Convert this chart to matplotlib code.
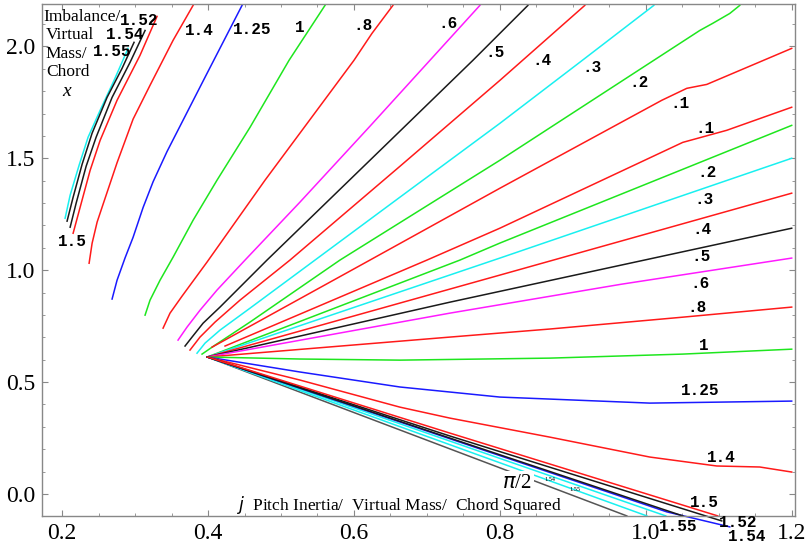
import numpy as np
import matplotlib
matplotlib.use("Agg")
import matplotlib.pyplot as plt
from matplotlib.ticker import MultipleLocator

RED = "#ff1a1a"
GREEN = "#1ee61e"
CYAN = "#19f0f0"
MAGENTA = "#ff1aff"
BLUE = "#1a1aff"
BLACK = "#1a1a1a"
GRAY = "#555555"

# contour traces: pitch inertia (j) vs imbalance (x)
# upper fan, lines starting along the left boundary
c155_j = [0.2041, 0.2110, 0.2233, 0.2356, 0.2521, 0.2712, 0.2904]
c155_x = [1.232, 1.335, 1.469, 1.594, 1.714, 1.848, 1.991]
b155_j = [0.2068, 0.2151, 0.2274, 0.2411, 0.2616, 0.2822, 0.2986]
b155_x = [1.219, 1.326, 1.473, 1.612, 1.772, 1.902, 2.018]
b154_j = [0.2110, 0.2192, 0.2329, 0.2466, 0.2685, 0.2932, 0.3137]
b154_x = [1.192, 1.299, 1.464, 1.594, 1.772, 1.929, 2.071]
r152_j = [0.2151, 0.2247, 0.2384, 0.2521, 0.2753, 0.3068, 0.3301]
r152_x = [1.165, 1.281, 1.446, 1.580, 1.759, 1.960, 2.134]
r14_j = [0.2370, 0.2411, 0.2480, 0.2562, 0.2753, 0.2973, 0.3205, 0.3521, 0.3795]
r14_x = [1.031, 1.120, 1.215, 1.295, 1.480, 1.675, 1.826, 2.027, 2.183]
b125_j = [0.2685, 0.2753, 0.2863, 0.2973, 0.3110, 0.3247, 0.3438, 0.3959, 0.4466]
b125_x = [0.871, 0.955, 1.055, 1.147, 1.280, 1.395, 1.530, 1.862, 2.183]
g1_j = [0.3137, 0.3205, 0.3342, 0.3521, 0.3795, 0.4123, 0.4575, 0.5110, 0.5603]
g1_x = [0.799, 0.866, 0.955, 1.058, 1.223, 1.402, 1.638, 1.9375, 2.183]
r08_j = [0.3384, 0.3479, 0.3644, 0.3986, 0.4781, 0.6000, 0.6247, 0.6534]
r08_x = [0.741, 0.808, 0.884, 1.036, 1.402, 1.9375, 2.058, 2.183]
m06_j = [0.3589, 0.3712, 0.3890, 0.4123, 0.4507, 0.5260, 0.6219, 0.7041, 0.7726]
m06_x = [0.6875, 0.7455, 0.821, 0.911, 1.045, 1.304, 1.643, 1.9375, 2.183]
k05_j = [0.3685, 0.3781, 0.3932, 0.4164, 0.4808, 0.6219, 0.7630, 0.8384]
k05_x = [0.661, 0.701, 0.763, 0.835, 1.045, 1.491, 1.9375, 2.183]
r04_j = [0.3753, 0.3890, 0.4096, 0.4438, 0.5123, 0.6630, 0.8000, 0.9164]
r04_x = [0.643, 0.701, 0.768, 0.866, 1.045, 1.464, 1.848, 2.183]
c03_j = [0.3849, 0.3959, 0.4164, 0.4575, 0.5466, 0.6630, 0.8000, 0.9096, 1.0110]
c03_x = [0.629, 0.674, 0.732, 0.830, 1.045, 1.326, 1.656, 1.929, 2.183]
g02_j = [0.3918, 0.4096, 0.4575, 0.5808, 0.8000, 0.9370, 1.0740, 1.0918, 1.1151, 1.1288]
g02_x = [0.625, 0.665, 0.768, 1.045, 1.491, 1.781, 2.071, 2.103, 2.147, 2.183]
r01_j = [0.4055, 0.6219, 0.8000, 1.0219, 1.0562, 1.0836, 1.2000]
r01_x = [0.656, 1.045, 1.366, 1.759, 1.8125, 1.830, 1.991]

# lower fan, all lines leaving the common point
j0, x0 = 0.399, 0.612
r01b_j = [0.4233, 0.7000, 0.8000, 1.0507, 1.1110, 1.2000]
r01b_x = [0.661, 1.045, 1.1875, 1.571, 1.625, 1.728]
g02b_j = [j0, 0.7452, 0.8000, 1.2000]
g02b_x = [x0, 1.045, 1.121, 1.647]
c03b_j = [j0, 0.8000, 1.2000]
c03b_x = [x0, 1.054, 1.500]
r04b_j = [j0, 0.8000, 1.2000]
r04b_x = [x0, 0.978, 1.344]
k05b_j = [j0, 0.7315, 1.2000]
k05b_x = [x0, 0.857, 1.1875]
m06b_j = [j0, 0.7315, 0.9671, 1.2000]
m06b_x = [x0, 0.808, 0.9375, 1.054]
r08b_j = [j0, 0.7315, 0.8685, 1.0507, 1.2000]
r08b_x = [x0, 0.701, 0.737, 0.790, 0.835]
g1b_j = [j0, 0.5260, 0.6630, 0.8685, 1.0507, 1.2000]
g1b_x = [x0, 0.603, 0.598, 0.607, 0.625, 0.647]
b125b_j = [j0, 0.5260, 0.6630, 0.8000, 0.8685, 1.0055, 1.2000]
b125b_x = [x0, 0.545, 0.478, 0.433, 0.424, 0.406, 0.415]
r14b_j = [j0, 0.5260, 0.6630, 0.7315, 0.8685, 1.0055, 1.0973, 1.1562, 1.2000]
r14b_x = [x0, 0.509, 0.388, 0.339, 0.254, 0.165, 0.125, 0.1205, 0.098]
r15b_j = [j0, 0.7315, 1.0986]
r15b_x = [x0, 0.272, -0.098]
k152_j = [j0, 0.7315, 1.1041]
k152_x = [x0, 0.259, -0.1205]
k155_j = [j0, 1.0507]
k155_x = [x0, -0.098]
b154_lj = [j0, 1.0288, 1.1151]
b154_lx = [x0, -0.080, -0.147]
c155a_j = [j0, 1.0274]
c155a_x = [x0, -0.098]
c155b_j = [j0, 1.0014]
c155b_x = [x0, -0.098]
pi2_j = [j0, 0.9740]
pi2_x = [x0, -0.098]

# contour value labels
lab_text = ["1.52", "1.54", "1.55", "1.5", "1.4", "1.25", "1", ".8", ".6", ".5",
            ".4", ".3", ".2", ".1", ".1", ".2", ".3", ".4", ".5", ".6", ".8", "1",
            "1.25", "1.4", "1.5", "1.52", "1.54", "1.55"]
lab_j = [0.3060, 0.2870, 0.2680, 0.2137, 0.3877, 0.4603, 0.5260, 0.6123, 0.7288, 0.7932,
         0.8575, 0.9260, 0.9904, 1.0466, 1.0808, 1.0836, 1.0795, 1.0767, 1.0753, 1.0740,
         1.0699, 1.0795, 1.0740, 1.1041, 1.0808, 1.1260, 1.1384, 1.0438]
lab_x = [2.116, 2.054, 1.978, 1.129, 2.071, 2.076, 2.085, 2.094, 2.103, 1.973,
         1.9375, 1.906, 1.839, 1.746, 1.634, 1.4375, 1.317, 1.183, 1.0625, 0.942,
         0.835, 0.665, 0.464, 0.165, -0.036, -0.129, -0.192, -0.147]

# y-axis title, one word per line
ytitle = ["Imbalance/", "Virtual", "Mass/", "Chord"]

lines = [
    (c155_j, c155_x, CYAN), (b155_j, b155_x, BLACK), (b154_j, b154_x, BLACK),
    (r152_j, r152_x, RED), (r14_j, r14_x, RED), (b125_j, b125_x, BLUE),
    (g1_j, g1_x, GREEN), (r08_j, r08_x, RED), (m06_j, m06_x, MAGENTA),
    (k05_j, k05_x, BLACK), (r04_j, r04_x, RED), (c03_j, c03_x, CYAN),
    (g02_j, g02_x, GREEN), (r01_j, r01_x, RED),
    (r01b_j, r01b_x, RED), (g02b_j, g02b_x, GREEN), (c03b_j, c03b_x, CYAN),
    (r04b_j, r04b_x, RED), (k05b_j, k05b_x, BLACK), (m06b_j, m06b_x, MAGENTA),
    (r08b_j, r08b_x, RED), (g1b_j, g1b_x, GREEN), (b125b_j, b125b_x, BLUE),
    (r14b_j, r14b_x, RED),
    (pi2_j, pi2_x, GRAY), (c155b_j, c155b_x, CYAN), (c155a_j, c155a_x, CYAN),
    (b154_lj, b154_lx, BLUE), (k155_j, k155_x, BLACK), (k152_j, k152_x, BLACK),
    (r15b_j, r15b_x, RED),
]

plt.rcParams["font.family"] = ["Liberation Serif", "DejaVu Serif"]

fig = plt.figure(figsize=(8.1, 5.5), dpi=100)
ax = fig.add_axes([0.052, 0.062, 0.929, 0.931])

for xs, ys, col in lines:
    ax.plot(xs, ys, color=col, lw=1.1, clip_on=False, solid_joinstyle="round")

lab_font = dict(family=["Liberation Mono", "DejaVu Sans Mono"], weight="bold", fontsize=11.5)
for t, xx, yy in zip(lab_text, lab_j, lab_x):
    ax.text(xx, yy, t, ha="center", va="center", clip_on=False, **lab_font)

# label sitting in a gap of the pi/2 line
ax.text(0.8233, 0.049, r"$\pi$/2", ha="center", va="center", fontsize=15,
        bbox=dict(facecolor="white", edgecolor="none", pad=1.5))
ax.text(0.8685, 0.0625, "1.54", ha="center", va="center", fontsize=4.5)
ax.text(0.9027, 0.018, "1.55", ha="center", va="center", fontsize=4.5)

# axis titles written inside the frame
for i, word in enumerate(ytitle):
    ax.text(0.002 if i == 0 else 0.005, 0.975 - i * 0.036, word, transform=ax.transAxes,
            ha="left", va="center", fontsize=12.5)
ax.text(0.2055, 1.797, "x", style="italic", fontsize=14, ha="center", va="center")
ax.text(0.440, -0.049, "$j$  Pitch Inertia/  Virtual Mass/  Chord Squared",
        ha="left", va="center", fontsize=12.5)

ax.set_xlim(0.1726, 1.204)
ax.set_ylim(-0.098, 2.19)
ax.xaxis.set_major_locator(MultipleLocator(0.2))
ax.xaxis.set_minor_locator(MultipleLocator(0.05))
ax.yaxis.set_major_locator(MultipleLocator(0.5))
ax.yaxis.set_minor_locator(MultipleLocator(0.1))
ax.set_xticks([0.2, 0.4, 0.6, 0.8, 1.0, 1.2])
ax.set_xticklabels(["0.2", "0.4", "0.6", "0.8", "1.0", "1.2"])
ax.tick_params(which="both", direction="in", top=True, right=True, color="#888888",
               labelsize=17, pad=5)
ax.tick_params(which="major", length=4)
ax.tick_params(which="minor", length=2.5)
for s in ax.spines.values():
    s.set_color("#888888")
    s.set_linewidth(1.0)

fig.savefig("out.png", dpi=100)
